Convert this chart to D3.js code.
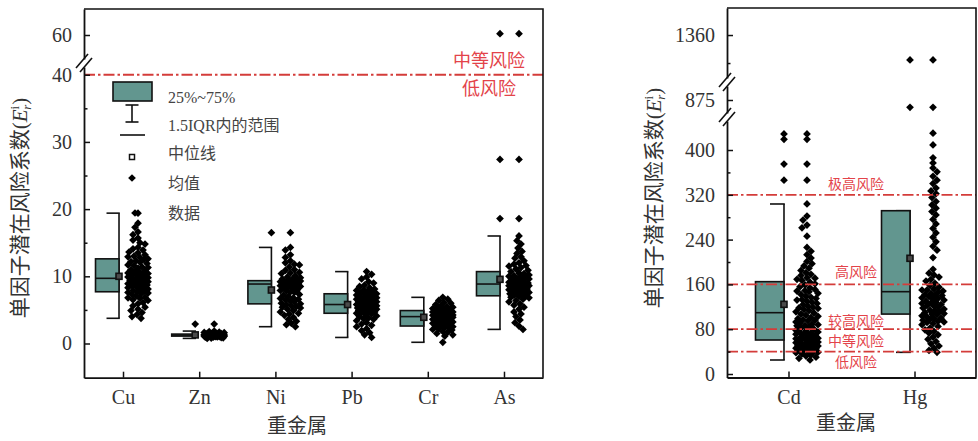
<!DOCTYPE html>
<html>
<head>
<meta charset="utf-8">
<script src="https://cdn.jsdelivr.net/npm/d3@7"></script>
<style>
  body { margin: 0; background: #fff; }
  svg { display: block; }
</style>
</head>
<body>
<svg id="chart" width="978" height="441"></svg>
<script>
// ---------- categories ----------
const leftMetals = ["Cu", "Zn", "Ni", "Pb", "Cr", "As"];
const rightMetals = ["Cd", "Hg"];

// ---------- box statistics (Er) ----------
const leftQ1 = [7.7, 1.1, 5.9, 4.5, 2.6, 7.1];
const leftMedian = [9.7, 1.25, 8.85, 5.8, 4.0, 8.85];
const leftQ3 = [12.6, 1.4, 9.35, 7.4, 4.9, 10.7];
const leftMean = [10.0, 1.28, 7.96, 5.8, 3.9, 9.55];
const leftWhiskerLow = [3.75, 0.76, 2.5, 0.9, 0.18, 2.1];
const leftWhiskerHigh = [19.4, 1.85, 14.3, 10.7, 6.87, 16.0];
const leftOutliers = [[], [2.9], [16.5], [], [], [60.2, 27.4, 18.6]];

const rightQ1 = [60.7, 107];
const rightMedian = [109.5, 147];
const rightQ3 = [164.9, 291.6];
const rightMean = [124.4, 206.6];
const rightWhiskerLow = [25, 38.7];
const rightWhiskerHigh = [303.6, 291.6];
const rightOutliers = [[428.6, 419, 375, 346], [1144, 812]];

// ---------- sample values per metal ----------
const cuData = [19.4, 17.9, 17.3, 16.6, 16.2, 15.7, 15.4, 15.0, 14.8, 14.3, 14.1, 13.9, 13.6, 13.5, 13.2, 12.9,
  12.8, 12.6, 12.5, 12.2, 12.1, 11.9, 11.7, 11.6, 11.3, 11.2, 11.0, 10.8, 10.7, 10.5, 10.4, 10.2, 10.1, 9.9, 9.9,
  9.8, 9.7, 9.6, 9.5, 9.3, 9.2, 9.1, 9.0, 8.8, 8.7, 8.6, 8.5, 8.3, 8.2, 8.1, 7.9, 7.8, 7.7, 7.6, 7.4, 7.3, 7.1,
  6.9, 6.8, 6.5, 6.4, 6.1, 5.9, 5.6, 5.4, 5.1, 4.9, 4.6, 4.3, 4.0, 3.75, 9.4, 10.6, 11.4, 8.9, 12.3, 9.0, 7.5,
  10.3, 13.0, 8.4, 6.7];
const znData = [2.9, 1.85, 1.76, 1.71, 1.64, 1.6, 1.55, 1.52, 1.49, 1.46, 1.44, 1.42, 1.4, 1.39, 1.37, 1.35, 1.34,
  1.32, 1.31, 1.3, 1.28, 1.27, 1.27, 1.26, 1.25, 1.24, 1.24, 1.23, 1.21, 1.2, 1.19, 1.18, 1.16, 1.15, 1.14, 1.13,
  1.11, 1.1, 1.09, 1.07, 1.05, 1.03, 1.01, 0.98, 0.96, 0.93, 0.89, 0.85, 0.81, 0.76, 1.29, 1.22, 1.17, 1.33];
const niData = [16.5, 14.3, 13.9, 13.2, 12.8, 12.3, 12.0, 11.7, 11.4, 11.0, 10.9, 10.6, 10.4, 10.1, 9.9, 9.8, 9.6,
  9.5, 9.4, 9.3, 9.2, 9.1, 9.0, 9.0, 8.9, 8.9, 8.8, 8.7, 8.7, 8.6, 8.5, 8.3, 8.2, 8.0, 7.9, 7.7, 7.6, 7.3, 7.2,
  7.0, 6.8, 6.7, 6.5, 6.3, 6.2, 6.0, 5.9, 5.8, 5.6, 5.5, 5.3, 5.1, 4.9, 4.7, 4.5, 4.2, 3.9, 3.6, 3.3, 3.0, 2.8,
  2.5, 9.2, 8.6, 7.8, 10.5, 6.6, 5.4, 11.8, 4.4, 8.4, 9.6];
const pbData = [10.7, 10.3, 9.9, 9.6, 9.2, 9.0, 8.7, 8.5, 8.3, 8.1, 7.9, 7.8, 7.6, 7.5, 7.4, 7.2, 7.1, 7.0, 6.9,
  6.8, 6.7, 6.6, 6.5, 6.4, 6.3, 6.2, 6.1, 6.0, 5.9, 5.8, 5.8, 5.7, 5.6, 5.5, 5.4, 5.3, 5.2, 5.1, 5.0, 4.9, 4.8,
  4.7, 4.6, 4.5, 4.4, 4.3, 4.1, 4.0, 3.8, 3.6, 3.4, 3.1, 2.9, 2.7, 2.5, 2.2, 1.9, 1.6, 1.3, 0.9, 6.2, 5.5, 7.3,
  4.9, 6.6, 3.7, 8.0, 5.2];
const crData = [6.87, 6.6, 6.4, 6.1, 6.0, 5.8, 5.6, 5.5, 5.4, 5.2, 5.1, 5.0, 4.9, 4.85, 4.8, 4.7, 4.6, 4.55, 4.5,
  4.4, 4.3, 4.25, 4.2, 4.1, 4.05, 4.0, 3.95, 3.9, 3.8, 3.7, 3.6, 3.5, 3.4, 3.3, 3.2, 3.1, 3.0, 2.9, 2.8, 2.7,
  2.6, 2.5, 2.4, 2.3, 2.2, 2.1, 2.0, 1.8, 1.7, 1.5, 1.3, 1.1, 0.18, 4.3, 3.6, 4.7, 2.9, 5.2, 3.3, 4.0];
const asData = [60.2, 27.4, 18.6, 16.0, 15.3, 14.8, 14.2, 13.7, 13.4, 12.9, 12.7, 12.3, 12.0, 11.8, 11.5, 11.3,
  11.1, 10.9, 10.7, 10.5, 10.4, 10.2, 10.0, 9.9, 9.7, 9.6, 9.5, 9.3, 9.2, 9.1, 9.0, 8.9, 8.8, 8.8, 8.7, 8.6,
  8.5, 8.4, 8.3, 8.2, 8.1, 8.0, 7.9, 7.8, 7.7, 7.6, 7.5, 7.3, 7.2, 7.1, 7.0, 6.8, 6.6, 6.4, 6.2, 5.9, 5.7, 5.4,
  5.1, 4.7, 4.4, 4.0, 3.5, 3.1, 2.6, 2.1, 9.4, 8.6, 10.1, 7.4, 11.6, 8.9, 9.8, 6.9];
const cdData = [428.6, 419, 375, 346, 303.6, 282, 275, 266, 261, 246, 226, 219, 213, 207, 201, 197, 193, 189, 185,
  181, 178, 176, 172, 169, 167, 164, 161, 159, 156, 154, 151, 149, 147, 144, 142, 139, 137, 135, 133, 130, 128,
  126, 124, 121, 119, 117, 115, 113, 111, 109, 107, 105, 103, 101, 99, 97, 95, 93, 91, 89, 87, 86, 84, 82, 80,
  78, 77, 75, 74, 72, 71, 69, 68, 66, 65, 63, 62, 61, 59, 58, 57, 56, 55, 53, 52, 51, 50, 49, 48, 47, 46, 45,
  44, 43, 42, 41, 40, 38, 36, 34, 32, 30, 28, 25, 148, 118, 96, 73, 64, 54, 60, 47, 39, 171, 132, 88];
const hgData = [1144, 812, 430, 409, 386, 377, 368, 361, 353, 346, 340, 332, 327, 322, 315, 308, 302, 296, 290,
  284, 276, 268, 260, 252, 244, 236, 228, 221, 208, 187, 180, 177, 173, 169, 166, 162, 158, 155, 152, 150, 148,
  146, 144, 142, 140, 138, 136, 134, 132, 130, 128, 126, 124, 122, 120, 118, 116, 114, 112, 110, 108, 106, 104,
  102, 100, 98, 96, 94, 92, 90, 88, 85, 82, 79, 76, 73, 70, 66, 62, 58, 54, 50, 46, 42, 38.7, 141, 127, 113,
  99, 135, 107, 93, 150, 121];

// ---------- axis ticks ----------
const leftMajorTicks = [0, 10, 20, 30, 40, 60];
const leftMinorTicks = [5, 15, 25, 35];
const rightMajorTicks = [0, 80, 160, 240, 320, 400, 875, 1360];
const rightMinorTicks = [40, 120, 200, 280, 360, 1117.5];

// ---------- risk thresholds ----------
const leftRiskLines = [40];
const leftRiskLabels = [
  { text: "中等风险", at: 40, dy: -8 },
  { text: "低风险", at: 40, dy: 20 }
];
const rightRiskLines = [320, 160, 80, 40];
const rightRiskLabels = [
  { text: "极高风险", at: 320, dy: -6 },
  { text: "高风险", at: 160, dy: -7.5 },
  { text: "较高风险", at: 80, dy: -3 },
  { text: "中等风险", at: 80, dy: 17 },
  { text: "低风险", at: 40, dy: 15.5 }
];

// ---------- styles ----------
const serif = "'Liberation Serif','Times New Roman','Noto Sans CJK SC',serif";
const cjk = "'Noto Sans CJK SC','Liberation Serif',sans-serif";
const teal = "#62968f";
const riskRed = "#d43c3a";
const riskText = "#e3434a";
const ink = "#333";

const svg = d3.select("#chart");

// y scale made of linear pieces separated by axis breaks
function brokenScale(segments) {
  const pieces = segments.map(s => d3.scaleLinear().domain(s.domain).range(s.range));
  const f = v => {
    for (const p of pieces) {
      const [a, b] = p.domain();
      if (v >= a && v <= b) return p(v);
    }
    let best = pieces[0], dist = Infinity;
    pieces.forEach(p => {
      const [a, b] = p.domain();
      const d = v < a ? a - v : v - b;
      if (d < dist) { dist = d; best = p; }
    });
    return best(v);
  };
  f.pieces = pieces;
  return f;
}

// deterministic beeswarm: spreads points sideways where values crowd
function swarm(values, y, halfW, diam) {
  const pts = values.map((v, i) => ({ v, y: y(v), i })).sort((a, b) => a.y - b.y);
  const placed = [];
  pts.forEach((p, n) => {
    const dir = n % 2 ? 1 : -1;
    let bestX = 0, bestD = -1;
    for (let k = 0; k <= 2 * halfW; k++) {
      const off = k === 0 ? 0 : (k % 2 ? dir : -dir) * Math.ceil(k / 2);
      let minD = Infinity;
      for (const q of placed) {
        const dy = q.y - p.y;
        if (Math.abs(dy) >= diam) continue;
        const d = Math.hypot(q.x - off, dy);
        if (d < minD) minD = d;
      }
      if (minD >= diam) { bestX = off; bestD = Infinity; break; }
      if (minD > bestD) { bestD = minD; bestX = off; }
    }
    p.x = bestX;
    placed.push(p);
  });
  return pts;
}

const diamond = d3.symbol().type(d3.symbolSquare).size(30);

function drawPanel(cfg) {
  const g = svg.append("g");
  const { x0, x1, y0, y1 } = cfg.frame;

  const x = d3.scalePoint().domain(cfg.cats).range([x0, x1]).padding(cfg.padding);
  const y = brokenScale(cfg.segments);

  const marks = g.append("g");

  // boxes, whiskers, means, outliers and sample points
  cfg.cats.forEach((c, i) => {
    const right = x(c) + cfg.boxRight;
    const left = right - cfg.boxW;
    const b = marks.append("g");
    b.append("line")
      .attr("x1", right).attr("x2", right)
      .attr("y1", y(cfg.wLo[i])).attr("y2", y(cfg.wHi[i]))
      .attr("stroke", "#111").attr("stroke-width", 1.6);
    [cfg.wLo[i], cfg.wHi[i]].forEach(w => {
      b.append("line")
        .attr("x1", right - cfg.cap).attr("x2", right + 0.8)
        .attr("y1", y(w)).attr("y2", y(w))
        .attr("stroke", "#111").attr("stroke-width", 1.6);
    });
    b.append("rect")
      .attr("x", left).attr("y", y(cfg.q3[i]))
      .attr("width", cfg.boxW).attr("height", Math.max(1.5, y(cfg.q1[i]) - y(cfg.q3[i])))
      .attr("fill", teal).attr("stroke", "#111").attr("stroke-width", 1.6);
    b.append("line")
      .attr("x1", left).attr("x2", right)
      .attr("y1", y(cfg.median[i])).attr("y2", y(cfg.median[i]))
      .attr("stroke", "#111").attr("stroke-width", 1.6);
    b.append("rect")
      .attr("x", right - 3).attr("y", y(cfg.mean[i]) - 3)
      .attr("width", 6).attr("height", 6)
      .attr("fill", "#4a4a4a").attr("stroke", "#111").attr("stroke-width", 1.6);
    cfg.outliers[i].forEach(v => {
      b.append("path").attr("d", diamond)
        .attr("transform", `translate(${right},${y(v)}) rotate(45)`)
        .attr("fill", "#000");
    });
    const pts = swarm(cfg.data[i], y, cfg.halfW, 5);
    b.selectAll("path.pt").data(pts).join("path")
      .attr("class", "pt")
      .attr("d", diamond)
      .attr("transform", d => `translate(${x(c) + cfg.dataOff + d.x},${d.y}) rotate(45)`)
      .attr("fill", "#000");
  });

  // risk lines
  cfg.riskLines.forEach(v => {
    g.append("line")
      .attr("x1", x0).attr("x2", x1)
      .attr("y1", y(v)).attr("y2", y(v))
      .attr("stroke", riskRed).attr("stroke-width", 1.8)
      .attr("stroke-dasharray", "11,3,2.5,3");
  });
  cfg.riskLabels.forEach(l => {
    g.append("text")
      .attr("x", cfg.riskLabelX).attr("y", y(l.at) + l.dy)
      .attr("text-anchor", "middle")
      .attr("font-family", cjk).attr("font-size", cfg.riskFont)
      .attr("fill", riskText)
      .text(l.text);
  });

  // y axis, one piece per segment
  y.pieces.forEach(p => {
    const [a, b] = p.domain();
    const major = cfg.major.filter(t => t >= a && t <= b);
    const minor = cfg.minor.filter(t => t >= a && t <= b);
    const gm = g.append("g").attr("transform", `translate(${x0},0)`)
      .call(d3.axisLeft(p).tickValues(minor).tickSize(-3.5).tickFormat(""));
    gm.select(".domain").remove();
    gm.selectAll("line").attr("stroke", "#111").attr("stroke-width", 1.5);
    const ga = g.append("g").attr("transform", `translate(${x0},0)`)
      .call(d3.axisLeft(p).tickValues(major).tickSizeInner(-6).tickSizeOuter(0)
        .tickPadding(12).tickFormat(d3.format("d")));
    ga.select(".domain").attr("stroke", "#111").attr("stroke-width", 1.8);
    ga.selectAll("line").attr("stroke", "#111").attr("stroke-width", 1.5);
    ga.selectAll("text").attr("font-family", serif).attr("font-size", 20).attr("fill", ink);
  });

  // x axis
  const gx = g.append("g").attr("transform", `translate(0,${y1})`)
    .call(d3.axisBottom(x).tickSizeInner(-6).tickSizeOuter(0).tickPadding(cfg.xPad));
  gx.select(".domain").attr("stroke", "#111").attr("stroke-width", 1.8);
  gx.selectAll("line").attr("stroke", "#111").attr("stroke-width", 1.5);
  gx.selectAll("text").attr("font-family", serif).attr("font-size", 20).attr("fill", ink);

  // top and right border
  g.append("path")
    .attr("d", `M${x0},${y0}H${x1}V${y1}`)
    .attr("fill", "none").attr("stroke", "#111").attr("stroke-width", 1.6);

  // axis break marks
  cfg.breaks.forEach(cy => {
    [[-8, 5, 4, -9], [-4, 9, 8, -5]].forEach(([ax, ay, bx, by]) => {
      g.append("line")
        .attr("x1", x0 + ax).attr("y1", cy + ay)
        .attr("x2", x0 + bx).attr("y2", cy + by)
        .attr("stroke", "#111").attr("stroke-width", 1.6);
    });
  });

  // axis titles
  g.append("text")
    .attr("x", cfg.xTitle[0]).attr("y", cfg.xTitle[1])
    .attr("text-anchor", "middle")
    .attr("font-family", cjk).attr("font-size", 20).attr("fill", ink)
    .text("重金属");

  const yt = g.append("text")
    .attr("transform", `translate(${cfg.yTitle[0]},${cfg.yTitle[1]}) rotate(-90)`)
    .attr("text-anchor", "middle")
    .attr("font-family", serif).attr("font-size", 21).attr("fill", ink);
  yt.append("tspan").attr("font-family", cjk).text("单因子潜在风险系数");
  yt.append("tspan").text("(");
  yt.append("tspan").attr("font-style", "italic").text("E");
  yt.append("tspan").attr("font-size", 13).attr("dy", -8).text("i");
  yt.append("tspan").attr("font-size", 13).attr("font-style", "italic").attr("dx", -4).attr("dy", 12).text("r");
  yt.append("tspan").attr("dy", -4).text(")");

  return { g, x, y };
}

// ---------- left panel ----------
drawPanel({
  frame: { x0: 84, x1: 543, y0: 9, y1: 377.7 },
  cats: leftMetals, padding: 0.512,
  segments: [
    { domain: [-5.09, 41.15], range: [377.7, 67] },
    { domain: [56.4, 63.9], range: [59, 9] }
  ],
  major: leftMajorTicks, minor: leftMinorTicks,
  q1: leftQ1, median: leftMedian, q3: leftQ3, mean: leftMean,
  wLo: leftWhiskerLow, wHi: leftWhiskerHigh, outliers: leftOutliers,
  data: [cuData, znData, niData, pbData, crData, asData],
  boxW: 23.5, boxRight: -4, cap: 12.5, dataOff: 15, halfW: 10,
  riskLines: leftRiskLines, riskLabels: leftRiskLabels, riskLabelX: 489, riskFont: 18,
  breaks: [63], xPad: 12,
  xTitle: [297, 433], yTitle: [27, 208]
});

// legend
(function legend() {
  const g = svg.append("g");
  const sx = 132;
  g.append("rect").attr("x", 113).attr("y", 82).attr("width", 39).attr("height", 19)
    .attr("fill", teal).attr("stroke", "#111").attr("stroke-width", 1.6);
  g.append("line").attr("x1", sx).attr("x2", sx).attr("y1", 105).attr("y2", 122)
    .attr("stroke", "#111").attr("stroke-width", 1.6);
  [105, 122].forEach(v => g.append("line").attr("x1", sx - 6.5).attr("x2", sx + 6.5)
    .attr("y1", v).attr("y2", v).attr("stroke", "#111").attr("stroke-width", 1.6));
  g.append("line").attr("x1", 120).attr("x2", 145).attr("y1", 135).attr("y2", 135)
    .attr("stroke", "#111").attr("stroke-width", 1.6);
  g.append("rect").attr("x", sx - 2.5).attr("y", 154.5).attr("width", 5).attr("height", 5)
    .attr("fill", "#fff").attr("stroke", "#111").attr("stroke-width", 1.5);
  g.append("path").attr("d", diamond).attr("transform", `translate(${sx},178) rotate(45)`).attr("fill", "#000");
  g.append("path").attr("d", diamond).attr("transform", `translate(${sx + 3},213) rotate(45)`).attr("fill", "#000");
  const items = [["25%~75%", 103], ["1.5IQR内的范围", 131], ["中位线", 159], ["均值", 189], ["数据", 219]];
  g.selectAll("text").data(items).join("text")
    .attr("x", 168).attr("y", d => d[1])
    .attr("font-family", serif).attr("font-size", 16).attr("fill", "#444")
    .text(d => d[0]);
})();

// ---------- right panel ----------
drawPanel({
  frame: { x0: 727, x1: 976, y0: 8, y1: 377.5 },
  cats: rightMetals, padding: 0.488,
  segments: [
    { domain: [-6.25, 451.8], range: [377.5, 121] },
    { domain: [762.4, 996.2], range: [113, 86] },
    { domain: [988, 1594], range: [78, 8] }
  ],
  major: rightMajorTicks, minor: rightMinorTicks,
  q1: rightQ1, median: rightMedian, q3: rightQ3, mean: rightMean,
  wLo: rightWhiskerLow, wHi: rightWhiskerHigh, outliers: rightOutliers,
  data: [cdData, hgData],
  boxW: 28.5, boxRight: -4.5, cap: 14, dataOff: 18.5, halfW: 11,
  riskLines: rightRiskLines, riskLabels: rightRiskLabels, riskLabelX: 856, riskFont: 14,
  breaks: [82, 117], xPad: 12,
  xTitle: [846, 430], yTitle: [661, 198]
});
</script>
</body>
</html>
